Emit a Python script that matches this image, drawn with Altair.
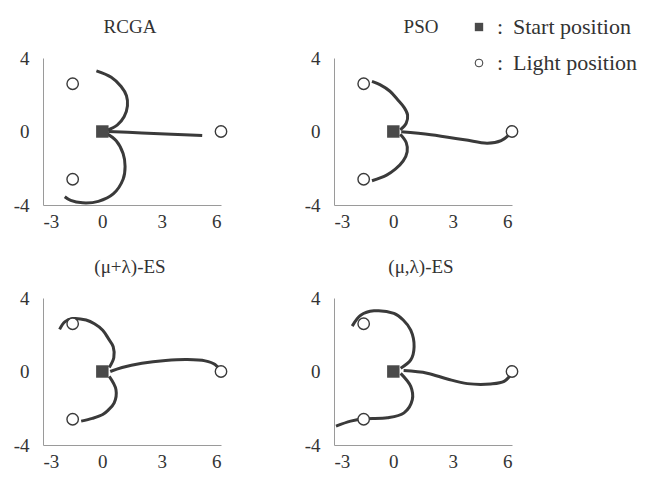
import altair as alt
import pandas as pd

METHODS = ["RCGA", "PSO", "(μ+λ)-ES", "(μ,λ)-ES"]
X_TICKS = [-3, 0, 3, 6]
Y_TICKS = [-4, 0, 4]

START = [(0.0, 0.0)]
LIGHTS = [(-1.5, 2.6), (-1.5, -2.6), (6.0, 0.0)]

# trajectories (x, y)
RCGA_UPPER = [(0.2, 0.05), (0.75, 0.35), (1.1, 0.8), (1.27, 1.4), (1.22, 1.95),
              (0.95, 2.45), (0.45, 2.95), (-0.3, 3.3)]
RCGA_LOWER = [(0.2, -0.1), (0.7, -0.5), (1.05, -1.2), (1.15, -1.9), (1.05, -2.6),
              (0.55, -3.4), (-0.2, -3.8), (-1.0, -3.88), (-1.6, -3.75), (-1.9, -3.55)]
RCGA_RIGHT = [(0.3, 0.0), (2.0, -0.08), (3.5, -0.15), (5.05, -0.22)]

PSO_UPPER = [(0.35, 0.09), (0.65, 0.45), (0.72, 0.9), (0.55, 1.3), (0.2, 1.75),
             (-0.17, 2.19), (-0.68, 2.55), (-1.08, 2.73)]
PSO_LOWER = [(0.35, -0.15), (0.65, -0.6), (0.7, -1.1), (0.5, -1.6), (0.1, -2.05),
             (-0.34, -2.37), (-1.08, -2.68)]
PSO_RIGHT = [(0.4, -0.02), (1.9, -0.18), (3.6, -0.45), (4.75, -0.64), (5.45, -0.5),
             (5.85, -0.18), (6.0, 0.0)]

MPL_UPPER = [(0.35, 0.22), (0.58, 0.75), (0.55, 1.35), (0.3, 1.8), (0.02, 2.25),
             (-0.4, 2.6), (-0.82, 2.8), (-1.5, 2.88), (-1.9, 2.7), (-2.16, 2.29)]
MPL_LOWER = [(0.35, -0.27), (0.69, -0.99), (0.6, -1.71), (0.3, -2.1), (0.02, -2.34),
             (-0.5, -2.55), (-1.07, -2.7)]
MPL_RIGHT = [(0.4, 0.0), (1.0, 0.22), (2.0, 0.45), (3.2, 0.6), (4.3, 0.65),
             (5.2, 0.58), (5.7, 0.38), (5.95, 0.06)]

MCL_UPPER = [(0.37, 0.18), (0.88, 0.63), (1.05, 1.35), (0.88, 2.25), (0.5, 2.8),
             (0.03, 3.16), (-0.98, 3.3), (-1.65, 3.06), (-2.08, 2.47)]
MCL_LOWER = [(0.37, -0.1), (0.88, -0.81), (0.96, -1.53), (0.54, -2.25), (-0.3, -2.52),
             (-1.49, -2.57), (-2.16, -2.7), (-2.9, -2.97)]
MCL_RIGHT = [(0.52, 0.05), (1.71, -0.09), (2.73, -0.41), (3.74, -0.66), (4.92, -0.68),
             (5.6, -0.54), (6.0, -0.09)]

LEGEND_LABELS = ["Start position", "Light position"]

CURVES = {
    "RCGA": [RCGA_UPPER, RCGA_LOWER, RCGA_RIGHT],
    "PSO": [PSO_UPPER, PSO_LOWER, PSO_RIGHT],
    "(μ+λ)-ES": [MPL_UPPER, MPL_LOWER, MPL_RIGHT],
    "(μ,λ)-ES": [MCL_UPPER, MCL_LOWER, MCL_RIGHT],
}

rows = []
for m in METHODS:
    for ci, pts in enumerate(CURVES[m]):
        for oi, (x, y) in enumerate(pts):
            rows.append({"method": m, "curve": ci, "order": oi, "x": x, "y": y})
df_lines = pd.DataFrame(rows)
df_lights = pd.DataFrame([{"x": x, "y": y} for x, y in LIGHTS])
df_start = pd.DataFrame([{"x": x, "y": y} for x, y in START])

SERIF = "Liberation Serif"
DARK = "#3a3a3a"
TXT = "#333333"
W, H = 178, 147

xenc = alt.X("x:Q", scale=alt.Scale(domain=[-3, 6], nice=False, zero=False),
             axis=alt.Axis(values=X_TICKS, title=None, labelExpr="'' + datum.value"))
yenc = alt.Y("y:Q", scale=alt.Scale(domain=[-4, 4], nice=False, zero=False),
             axis=alt.Axis(values=Y_TICKS, title=None, labelExpr="'' + datum.value"))


def panel(method, legend=False):
    lines = alt.Chart(df_lines).transform_filter(
        alt.datum.method == method
    ).mark_line(interpolate="catmull-rom", strokeWidth=3, color=DARK).encode(
        x=xenc, y=yenc, detail="curve:N", order="order:Q")
    lights = alt.Chart(df_lights).mark_point(
        shape="circle", filled=True, fill="white", stroke=DARK, strokeWidth=1.4,
        size=130, opacity=1).encode(x=xenc, y=yenc)
    start = alt.Chart(df_start).mark_square(size=155, color="#4a4a4a", opacity=1).encode(
        x=xenc, y=yenc)
    title = alt.Chart(pd.DataFrame({"t": [method]})).mark_text(
        align="center", baseline="middle", font=SERIF, fontSize=19, color=TXT).encode(
        x=alt.value(W / 2 - 2), y=alt.value(-31), text="t:N")
    layers = [lines, lights, start, title]
    if legend:
        leg = pd.DataFrame({"label": LEGEND_LABELS})
        first = alt.datum.label == LEGEND_LABELS[0]
        second = alt.datum.label == LEGEND_LABELS[1]
        sq = alt.Chart(leg).transform_filter(first).mark_square(
            size=70, color="#4a4a4a", opacity=1).encode(x=alt.value(145), y=alt.value(-31))
        ci = alt.Chart(leg).transform_filter(second).mark_point(
            shape="circle", size=60, stroke=DARK, strokeWidth=1, opacity=1).encode(
            x=alt.value(145), y=alt.value(5))
        txt = dict(align="left", baseline="middle", font=SERIF, fontSize=22, color=TXT)
        t1 = alt.Chart(leg).transform_filter(first).mark_text(**txt).encode(
            x=alt.value(179), y=alt.value(-31), text="label:N")
        t2 = alt.Chart(leg).transform_filter(second).mark_text(**txt).encode(
            x=alt.value(179), y=alt.value(5), text="label:N")
        ctxt = dict(align="center", baseline="middle", font=SERIF, fontSize=22, color=TXT, text=":")
        c1 = alt.Chart(leg).transform_filter(first).mark_text(**ctxt).encode(
            x=alt.value(166), y=alt.value(-31))
        c2 = alt.Chart(leg).transform_filter(second).mark_text(**ctxt).encode(
            x=alt.value(166), y=alt.value(5))
        layers += [sq, ci, c1, c2, t1, t2]
    return alt.layer(*layers).properties(width=W, height=H)


row1 = alt.hconcat(panel(METHODS[0]), panel(METHODS[1], legend=True), spacing=113, bounds="flush")
row2 = alt.hconcat(panel(METHODS[2]), panel(METHODS[3]), spacing=113, bounds="flush")

chart = alt.vconcat(row1, row2, spacing=27).properties(
    padding={"left": 5, "top": 8, "right": 0, "bottom": 0}
).configure_view(stroke=None).configure_axis(
    grid=False, ticks=False, domainColor="#9a9a9a", domainWidth=1,
    labelFont=SERIF, labelFontSize=19, labelColor=TXT
).configure_axisX(labelPadding=7).configure_axisY(labelPadding=14)

chart.save("out.html", embed_options={"renderer": "svg", "actions": False})
